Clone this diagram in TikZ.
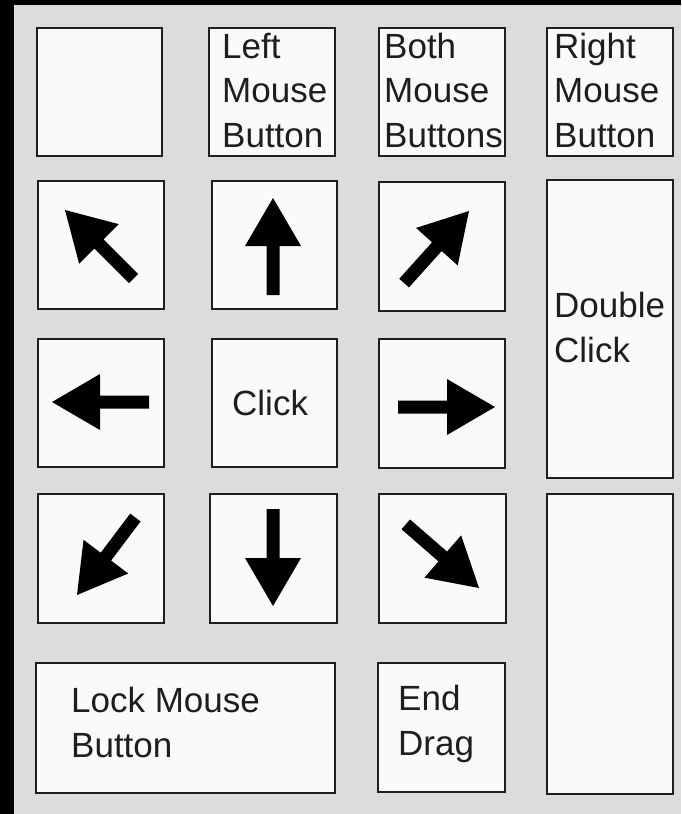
\documentclass[tikz,border=0pt]{standalone}
\usepackage{fontspec}
\setmainfont{Liberation Sans}
\definecolor{bggray}{HTML}{DCDCDC}
\definecolor{boxfill}{HTML}{FAFAFA}
\definecolor{boxline}{HTML}{1E1E1E}
\definecolor{txt}{HTML}{1E1E1E}
\newcommand\keyboxat[5]{%
  \node[keybox, minimum width={#4pt-#2pt}, minimum height={#5pt-#3pt}] (#1) at ({(#2+#4)/2},{(#3+#5)/2}) {};}
\newcommand\fatarrowat[2]{%
  \fill[arrowfill, shift={(#1)}, rotate=#2] (0,0) -- (-48,28) -- (-48,6.5) -- (-97,6.5) -- (-97,-6.5) -- (-48,-6.5) -- (-48,-28) -- cycle;}
\begin{document}
\begin{tikzpicture}[x=1pt, y=-1pt,
  keybox/.style={draw=boxline, fill=boxfill, line width=2.6pt, rectangle, inner sep=0pt, outer sep=0pt},
  arrowfill/.style={fill=black},
  lbl/.style={anchor=base west, inner sep=0pt, text=txt, font=\fontsize{35}{44}\selectfont}]
\useasboundingbox (0,0) rectangle (681,814);
\fill[bggray] (0,0) rectangle (681,814);
\fill[black] (0,0) rectangle (681,5);
\fill[black] (0,0) rectangle (14,814);
% row 1
\keyboxat{b00}{37}{28}{162}{156}
\keyboxat{b01}{209}{28}{335}{156}
\keyboxat{b02}{379}{28}{505}{156}
\keyboxat{b03}{547}{28}{673}{156}
% row 2
\keyboxat{b10}{38}{181}{164}{309}
\keyboxat{b11}{212}{181}{337}{309}
\keyboxat{b12}{379}{182}{505}{311}
\keyboxat{b13}{547}{180}{673}{478}
% row 3
\keyboxat{b20}{38}{339}{164}{467}
\keyboxat{b21}{212}{339}{337}{467}
\keyboxat{b22}{379}{339}{505}{468}
% row 4
\keyboxat{b30}{38}{494}{164}{623}
\keyboxat{b31}{210}{494}{337}{623}
\keyboxat{b32}{379}{494}{506}{623}
\keyboxat{b33}{547}{494}{673}{794}
% row 5
\keyboxat{b40}{36}{663}{335}{793}
\keyboxat{b41}{378}{663}{505}{792}
% labels
\node[lbl] (t01a) at (222,58) {Left};
\node[lbl] (t01b) at (222,102) {Mouse};
\node[lbl] (t01c) at (222,147) {Button};
\node[lbl] (t02a) at (384,58) {Both};
\node[lbl] (t02b) at (384,102) {Mouse};
\node[lbl] (t02c) at (384,147) {Buttons};
\node[lbl] (t03a) at (554,58) {Right};
\node[lbl] (t03b) at (554,102) {Mouse};
\node[lbl] (t03c) at (554,147) {Button};
\node[lbl] (t21) at (232,415) {Click};
\node[lbl] (t13a) at (554,317) {Double};
\node[lbl] (t13b) at (554,362) {Click};
\node[lbl] (t40a) at (71,712) {Lock Mouse};
\node[lbl] (t40b) at (71,757) {Button};
\node[lbl] (t41a) at (398,710) {End};
\node[lbl] (t41b) at (398,755) {Drag};
% arrows
\fatarrowat{65,210}{135}
\fatarrowat{273,198}{90}
\fatarrowat{469,211}{48}
\fatarrowat{52,402}{180}
\fatarrowat{495,407}{0}
\fatarrowat{77,595}{-127}
\fatarrowat{273,606}{-90}
\fatarrowat{479,588}{-41}
\end{tikzpicture}
\end{document}
